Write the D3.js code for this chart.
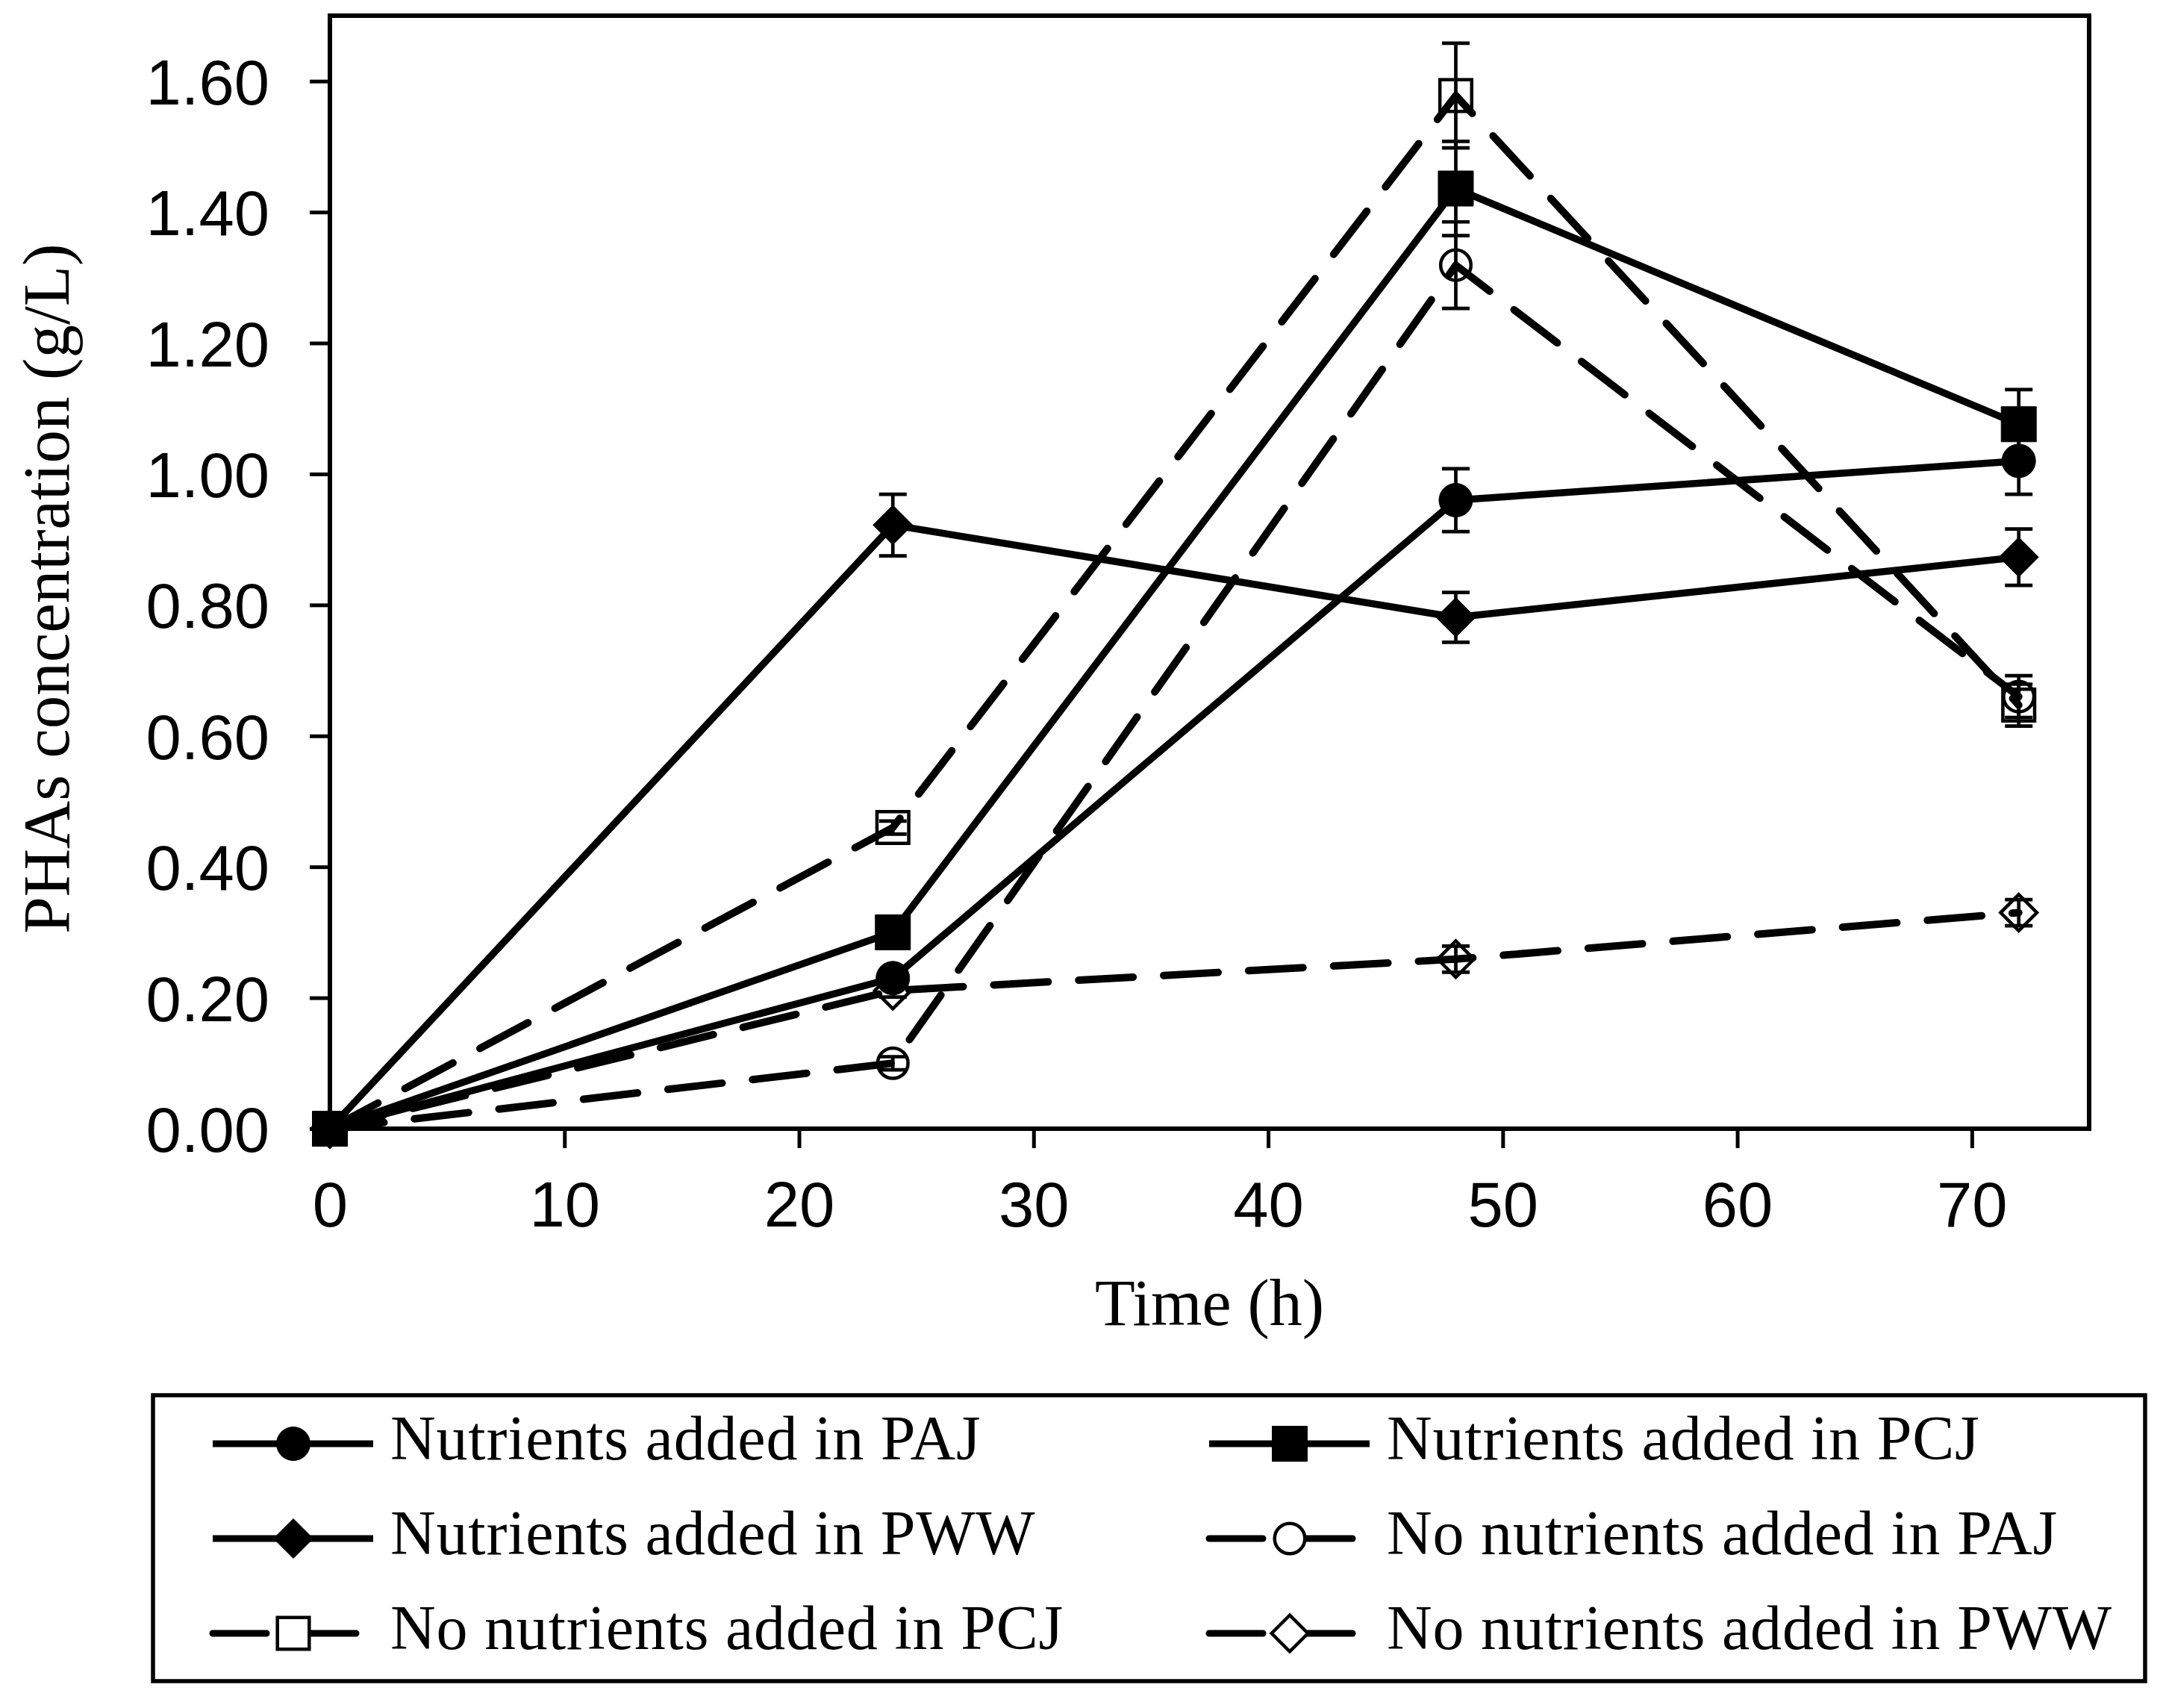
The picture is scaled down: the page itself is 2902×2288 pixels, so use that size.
<!DOCTYPE html>
<html>
<head>
<meta charset="utf-8">
<script src="https://cdn.jsdelivr.net/npm/d3@7"></script>
<style>
  body { margin: 0; background: #fff; }
  svg { display: block; }
</style>
</head>
<body>
<script>
// time points (h)
var timeH = [0, 24, 48, 72];

// PHAs concentration (g/L) and error bars
var pajNutrients   = [0, 0.23, 0.96, 1.02];
var pajNutrientsSd = [0, 0.01, 0.048, 0.051];
var pcjNutrients   = [0, 0.30, 1.436, 1.076];
var pcjNutrientsSd = [0, 0.01, 0.072, 0.053];
var pwwNutrients   = [0, 0.922, 0.781, 0.873];
var pwwNutrientsSd = [0, 0.047, 0.038, 0.043];
var pajNone        = [0, 0.10, 1.319, 0.66];
var pajNoneSd      = [0, 0.01, 0.066, 0.032];
var pcjNone        = [0, 0.46, 1.578, 0.647];
var pcjNoneSd      = [0, 0.01, 0.080, 0.032];
var pwwNone        = [0, 0.211, 0.259, 0.330];
var pwwNoneSd      = [0, 0.01, 0.02, 0.02];

var yTicks = [0, 0.2, 0.4, 0.6, 0.8, 1.0, 1.2, 1.4, 1.6];
var xTicks = [0, 10, 20, 30, 40, 50, 60, 70];

var series = [
  {name: 'No nutrients added in PAJ', v: pajNone, sd: pajNoneSd, shape: 'circle', filled: false, dashed: true},
  {name: 'No nutrients added in PCJ', v: pcjNone, sd: pcjNoneSd, shape: 'square', filled: false, dashed: true},
  {name: 'No nutrients added in PWW', v: pwwNone, sd: pwwNoneSd, shape: 'diamond', filled: false, dashed: true},
  {name: 'Nutrients added in PWW', v: pwwNutrients, sd: pwwNutrientsSd, shape: 'diamond', filled: true, dashed: false},
  {name: 'Nutrients added in PAJ', v: pajNutrients, sd: pajNutrientsSd, shape: 'circle', filled: true, dashed: false},
  {name: 'Nutrients added in PCJ', v: pcjNutrients, sd: pcjNutrientsSd, shape: 'square', filled: true, dashed: false}
];

// legend order, row by row
var legendOrder = [
  'Nutrients added in PAJ', 'Nutrients added in PCJ',
  'Nutrients added in PWW', 'No nutrients added in PAJ',
  'No nutrients added in PCJ', 'No nutrients added in PWW'
];

var W = 2902, H = 2288;
var pLeft = 442, pRight = 2799, pTop = 21, pBottom = 1512;

var svg = d3.select('body').append('svg')
  .attr('width', W)
  .attr('height', H);

svg.append('rect').attr('width', W).attr('height', H).attr('fill', '#fff');

var x = d3.scaleLinear().domain([0, 75]).range([pLeft, pRight]);
var y = d3.scaleLinear().domain([0, 1.7]).range([pBottom, pTop]);

var sans = '"Liberation Sans", Arial, sans-serif';
var serif = '"Liberation Serif", "Times New Roman", serif';

function markerPath(shape, s) {
  var p = d3.path();
  if (shape === 'circle') {
    p.moveTo(s, 0);
    p.arc(0, 0, s, 0, 2 * Math.PI);
  } else if (shape === 'square') {
    p.rect(-s, -s, 2 * s, 2 * s);
  } else {
    p.moveTo(0, -s); p.lineTo(s, 0); p.lineTo(0, s); p.lineTo(-s, 0); p.closePath();
  }
  return p.toString();
}

function markerSize(d) {
  var base = d.shape === 'circle' ? 22.5 : d.shape === 'square' ? 23.5 : 26.5;
  return d.filled ? base : base - 2.2;
}

function drawMarker(g, d) {
  g.append('path')
    .attr('d', markerPath(d.shape, markerSize(d)))
    .attr('fill', d.filled ? '#000' : 'none')
    .attr('stroke', '#000')
    .attr('stroke-width', d.filled ? 1 : 4.5)
    .attr('stroke-linejoin', 'miter');
}

var dash = '73 41';

// axes
var yAxis = d3.axisLeft(y).tickValues(yTicks).tickSize(27).tickPadding(54)
  .tickFormat(d3.format('.2f'));
var xAxis = d3.axisBottom(x).tickValues(xTicks).tickSize(26).tickPadding(45)
  .tickFormat(d3.format('d'));

var gy = svg.append('g').attr('transform', 'translate(' + pLeft + ',0)').call(yAxis);
var gx = svg.append('g').attr('transform', 'translate(0,' + pBottom + ')').call(xAxis);

[gy, gx].forEach(function(g) {
  g.select('.domain').remove();
  g.selectAll('line').attr('stroke', '#000').attr('stroke-width', 5);
  g.selectAll('text').attr('fill', '#000')
    .style('font-family', sans).style('font-size', '85px');
});
gx.selectAll('.tick').filter(function(d) { return d === 0; }).select('line').remove();
gy.selectAll('text').attr('dy', '0.36em');

// series lines
var line = d3.line()
  .x(function(d) { return x(d[0]); })
  .y(function(d) { return y(d[1]); });

var plot = svg.append('g');

series.forEach(function(s) {
  var pts = timeH.map(function(t, i) { return [t, s.v[i]]; });
  plot.append('path')
    .attr('d', line(pts))
    .attr('fill', 'none')
    .attr('stroke', '#000')
    .attr('stroke-width', s.dashed ? 10 : 9.5)
    .attr('stroke-linecap', s.dashed ? 'round' : 'butt')
    .attr('stroke-linejoin', 'round')
    .attr('stroke-dasharray', s.dashed ? dash : null);
});

// error bars
series.forEach(function(s) {
  timeH.forEach(function(t, i) {
    if (!s.sd[i]) return;
    var cx = x(t), y1 = y(s.v[i] + s.sd[i]), y2 = y(s.v[i] - s.sd[i]);
    var eb = plot.append('g').attr('stroke', '#000').attr('stroke-width', 4.7);
    eb.append('line').attr('x1', cx).attr('x2', cx).attr('y1', y1).attr('y2', y2);
    eb.append('line').attr('x1', cx - 18.5).attr('x2', cx + 18.5).attr('y1', y1).attr('y2', y1);
    eb.append('line').attr('x1', cx - 18.5).attr('x2', cx + 18.5).attr('y1', y2).attr('y2', y2);
  });
});

// markers
series.forEach(function(s) {
  timeH.forEach(function(t, i) {
    var g = plot.append('g').attr('transform', 'translate(' + x(t) + ',' + y(s.v[i]) + ')');
    drawMarker(g, s);
  });
});

// frame
svg.append('rect')
  .attr('x', pLeft).attr('y', pTop)
  .attr('width', pRight - pLeft).attr('height', pBottom - pTop)
  .attr('fill', 'none').attr('stroke', '#000').attr('stroke-width', 6);

// axis titles
svg.append('text')
  .attr('x', (pLeft + pRight) / 2).attr('y', 1775)
  .attr('text-anchor', 'middle')
  .style('font-family', serif).style('font-size', '88px')
  .text('Time (h)');

svg.append('text')
  .attr('transform', 'translate(92,' + ((pTop + pBottom) / 2 + 22) + ') rotate(-90)')
  .attr('text-anchor', 'middle')
  .style('font-family', serif).style('font-size', '89px')
  .text('PHAs concentration (g/L)');

// legend
svg.append('rect')
  .attr('x', 205).attr('y', 1869)
  .attr('width', 2874 - 205).attr('height', 2252 - 1869)
  .attr('fill', 'none').attr('stroke', '#000').attr('stroke-width', 5.5);

var colX = [285, 1620];
var rowY = [1934, 2061, 2188];

legendOrder.forEach(function(name, k) {
  var s = series.filter(function(d) { return d.name === name; })[0];
  var lx = colX[k % 2], ly = rowY[Math.floor(k / 2)];
  var g = svg.append('g').attr('transform', 'translate(' + lx + ',' + ly + ')');
  g.append('line')
    .attr('x1', 0).attr('x2', 215).attr('y1', 0).attr('y2', 0)
    .attr('stroke', '#000').attr('stroke-width', 9)
    .attr('stroke-linecap', s.dashed ? 'round' : 'butt')
    .attr('stroke-dasharray', s.dashed ? '72 48' : null);
  var m = g.append('g').attr('transform', 'translate(108,0)');
  if (!s.filled) {
    m.append('path').attr('d', markerPath(s.shape, markerSize(s))).attr('fill', '#fff');
  }
  drawMarker(m, s);
  g.append('text')
    .attr('x', 238).attr('y', 21)
    .style('font-family', serif).style('font-size', '84px')
    .style('letter-spacing', '0.8px')
    .text(s.name);
});
</script>
</body>
</html>
